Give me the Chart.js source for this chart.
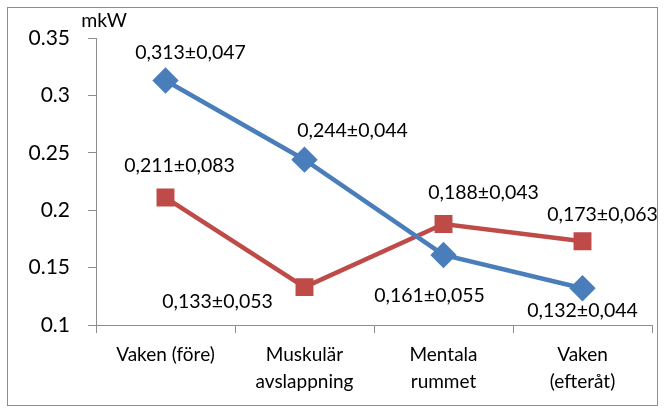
<!DOCTYPE html>
<html>
<head>
<meta charset="utf-8">
<script src="https://cdn.jsdelivr.net/npm/chart.js@4/dist/chart.umd.min.js"></script>
<style>
  html, body { margin: 0; padding: 0; background: #fff; }
  #wrap { position: relative; width: 671px; height: 414px; }
  #frame { position: absolute; left: 7px; top: 7px; width: 651px; height: 399px; border: 1px solid #8c8c8c; box-sizing: border-box; pointer-events: none; }
</style>
</head>
<body>
<div id="wrap">
  <canvas id="lineChart" width="671" height="414"></canvas>
  <div id="frame"></div>
</div>
<script>
const categories = [['Vaken (före)'], ['Muskulär', 'avslappning'], ['Mentala', 'rummet'], ['Vaken', '(efteråt)']];
const blueValues = [0.313, 0.244, 0.161, 0.132];
const blueLabels = ['0,313±0,047', '0,244±0,044', '0,161±0,055', '0,132±0,044'];
const redValues = [0.211, 0.133, 0.188, 0.173];
const redLabels = ['0,211±0,083', '0,133±0,053', '0,188±0,043', '0,173±0,063'];
const yUnit = 'mkW';

// label offsets from the point (px)
const blueOffsets = [[25, -28], [48, -29], [-14, 41], [0, 22]];
const redOffsets = [[14, -32], [-87, 15], [40, -31], [20, -26]];

const FONT = 'Lato, "Open Sans", sans-serif';

const pointLabels = {
    id: 'pointLabels',
    afterDatasetsDraw(chart) {
        const ctx = chart.ctx;
        ctx.save();
        ctx.font = '19.5px ' + FONT;
        ctx.fillStyle = '#000';
        ctx.textAlign = 'center';
        ctx.textBaseline = 'middle';
        const sets = [[0, blueLabels, blueOffsets], [1, redLabels, redOffsets]];
        sets.forEach(([i, labels, offs]) => {
            chart.getDatasetMeta(i).data.forEach((pt, j) => {
                ctx.fillText(labels[j], pt.x + offs[j][0], pt.y + offs[j][1]);
            });
        });
        // unit above y axis
        const ya = chart.scales.y;
        ctx.fillText(yUnit, ya.right + 8, ya.top - 17);
        ctx.restore();
    }
};

const linectx = document.getElementById('lineChart');
const lineChart = new Chart(linectx, {
    type: 'line',
    data: {
        labels: categories,
        datasets: [
            {
                label: 'blue',
                data: blueValues,
                borderColor: '#4A7EBB',
                backgroundColor: '#4A7EBB',
                borderWidth: 4.5,
                pointStyle: 'rectRot',
                pointRadius: 10,
                pointHoverRadius: 10,
                tension: 0
            },
            {
                label: 'red',
                data: redValues,
                borderColor: '#BE4B48',
                backgroundColor: '#BE4B48',
                borderWidth: 4.5,
                pointStyle: 'rect',
                pointRadius: 9.5,
                pointHoverRadius: 9.5,
                tension: 0
            }
        ]
    },
    options: {
        responsive: false,
        animation: false,
        layout: { padding: { left: 10, right: 19, top: 38, bottom: 0 } },
        plugins: {
            legend: { display: false },
            tooltip: { enabled: false }
        },
        scales: {
            x: {
                offset: true,
                grid: { offset: true, drawOnChartArea: false, color: '#8c8c8c', tickLength: 8 },
                border: { color: '#8c8c8c', width: 1 },
                ticks: { color: '#000', font: { family: FONT, size: 19, lineHeight: 1.45 }, padding: 8, maxRotation: 0, autoSkip: false },
                afterFit: s => { s.height = 89; }
            },
            y: {
                min: 0.1,
                max: 0.35,
                grid: { drawOnChartArea: false, color: '#8c8c8c', tickLength: 8 },
                border: { color: '#8c8c8c', width: 1 },
                ticks: {
                    stepSize: 0.05,
                    color: '#000',
                    font: { family: FONT, size: 21 },
                    padding: 18,
                    callback: v => String(parseFloat(v.toFixed(2)))
                },
                afterFit: s => { s.width = 86; }
            }
        }
    },
    plugins: [pointLabels]
});
</script>
</body>
</html>
